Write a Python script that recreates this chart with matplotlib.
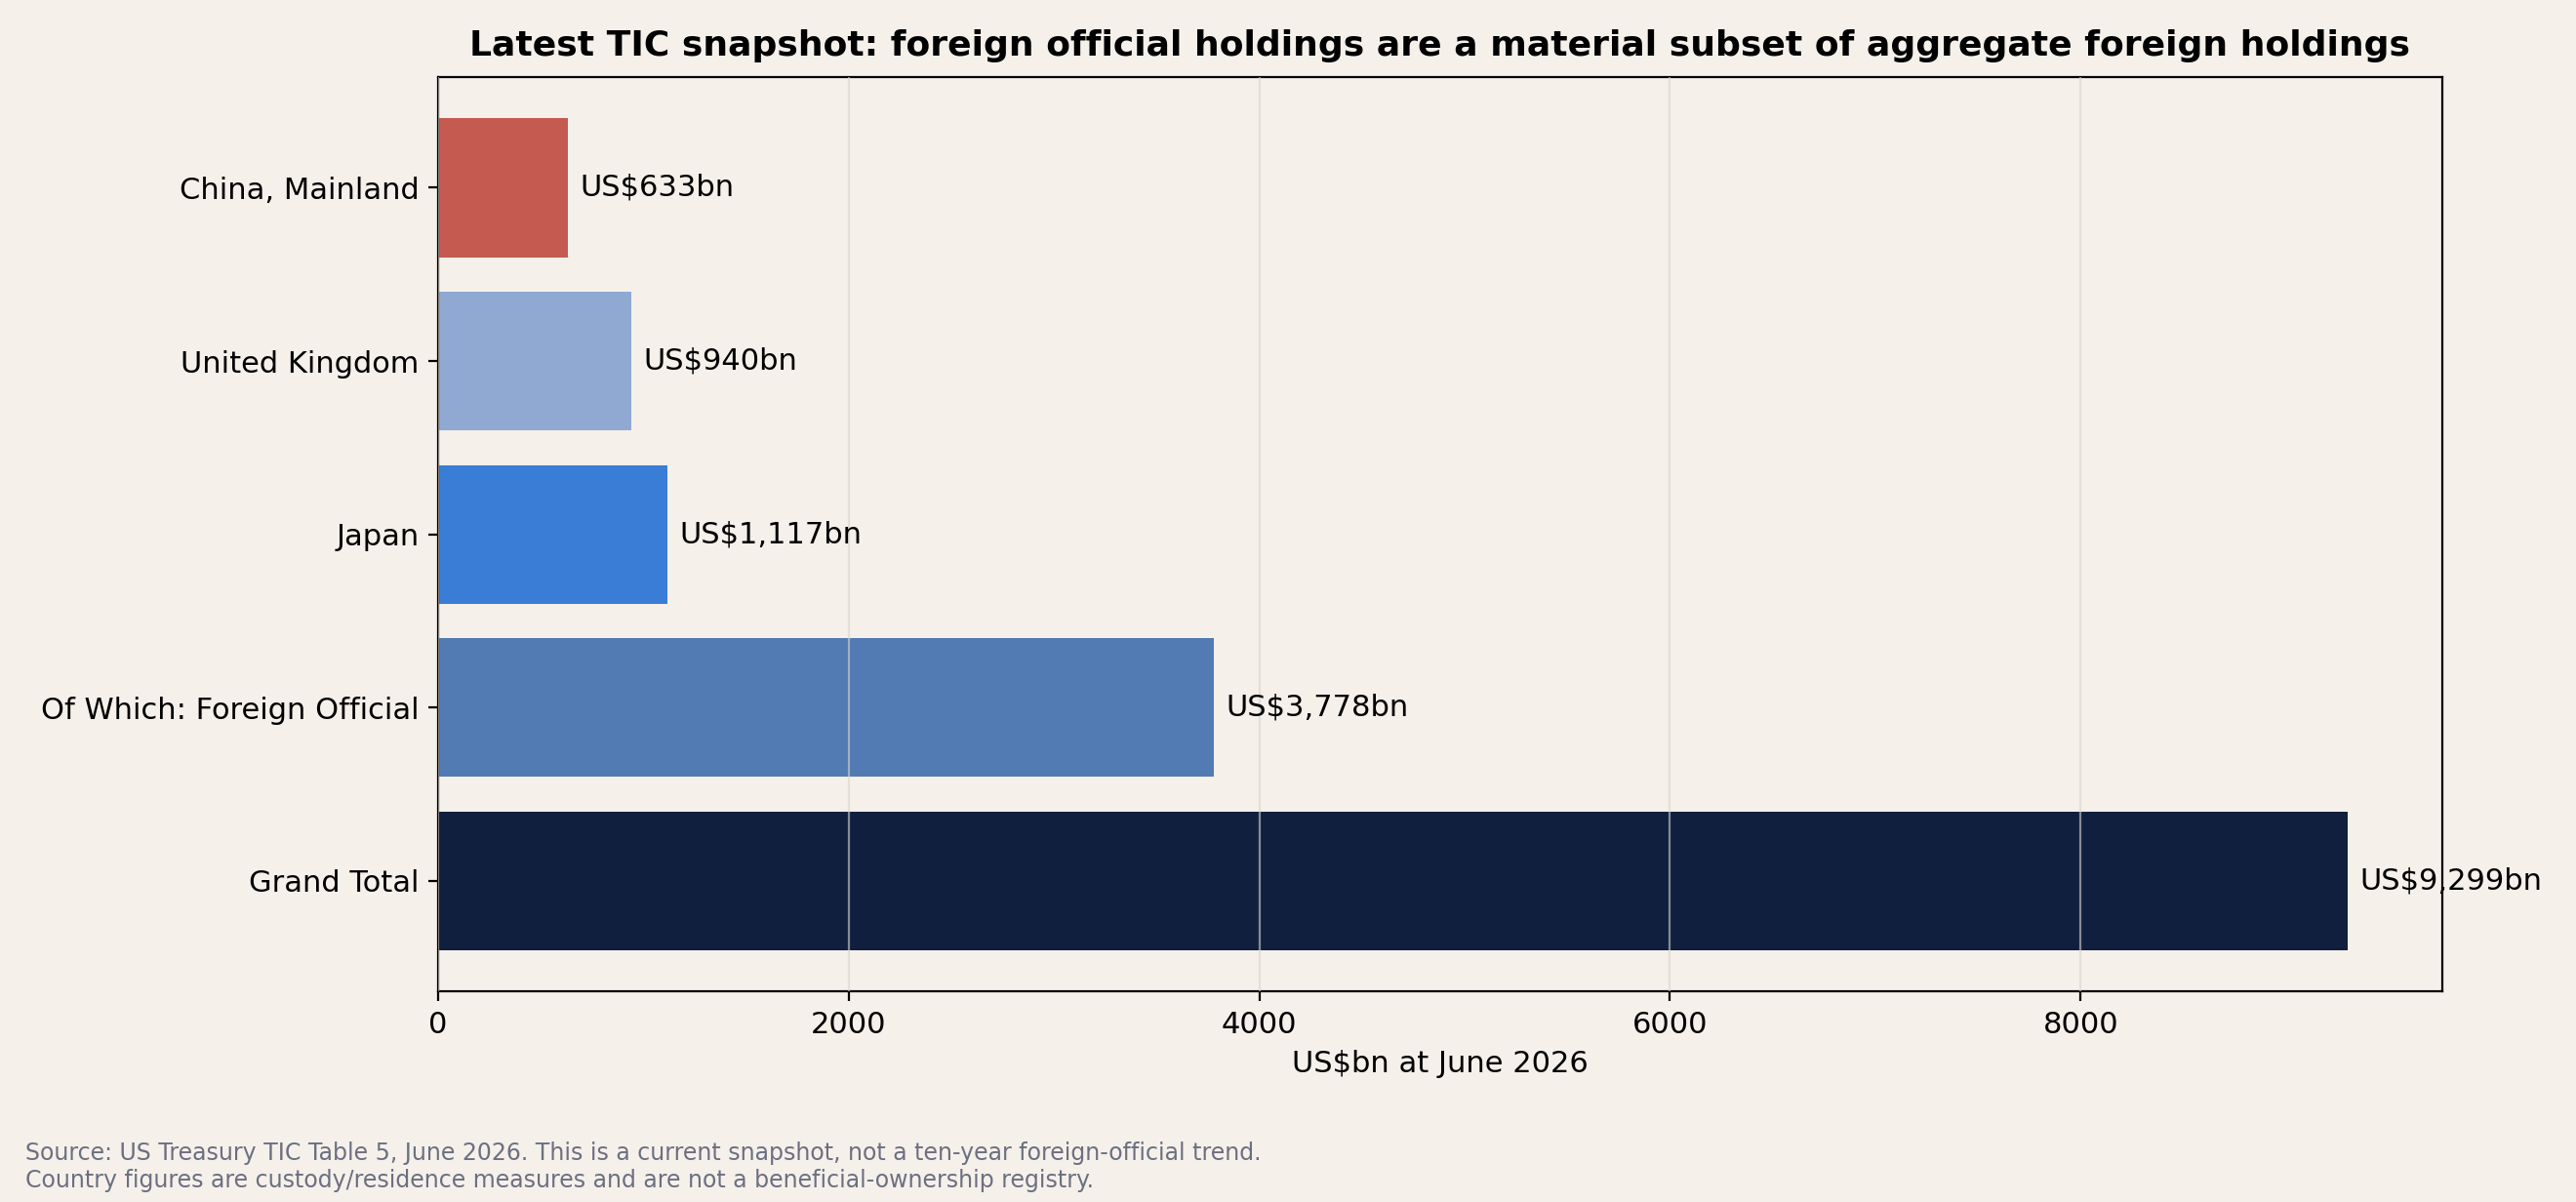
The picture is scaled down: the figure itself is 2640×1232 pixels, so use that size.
import matplotlib.pyplot as plt

categories = ["Grand Total", "Of Which: Foreign Official", "Japan", "United Kingdom", "China, Mainland"]
values = [9299, 3778, 1117, 940, 633]
colors = ["#0f1f3d", "#527ab3", "#3a7dd6", "#8fa9d3", "#c55a50"]

BG = "#f5f0ea"

fig = plt.figure(figsize=(13.2, 6.16), dpi=200, facecolor=BG)
ax = fig.add_axes([0.170, 0.175, 0.778, 0.761], facecolor=BG)

bars = ax.barh(categories, values, color=colors, height=0.8)
ax.set_axisbelow(False)
ax.grid(axis="x", color="#d8d4cf", linewidth=0.8, alpha=0.6)
ax.grid(axis="y", visible=False)

for bar, v in zip(bars, values):
    ax.text(v + 60, bar.get_y() + bar.get_height() / 2, f"US${v:,}bn",
            va="center", ha="left", fontsize=11)

ax.set_xlim(0, 9760)
ax.set_xlabel("US$bn at June 2026", fontsize=11)
ax.tick_params(labelsize=11)
ax.set_title("Latest TIC snapshot: foreign official holdings are a material subset of aggregate foreign holdings",
             fontsize=13, fontweight="bold", pad=8)

fig.text(0.01, 0.008,
         "Source: US Treasury TIC Table 5, June 2026. This is a current snapshot, not a ten-year foreign-official trend.\n"
         "Country figures are custody/residence measures and are not a beneficial-ownership registry.",
         fontsize=8.5, color="#6b7080", ha="left", va="bottom")

fig.savefig("out.png", dpi=200, facecolor=BG)
